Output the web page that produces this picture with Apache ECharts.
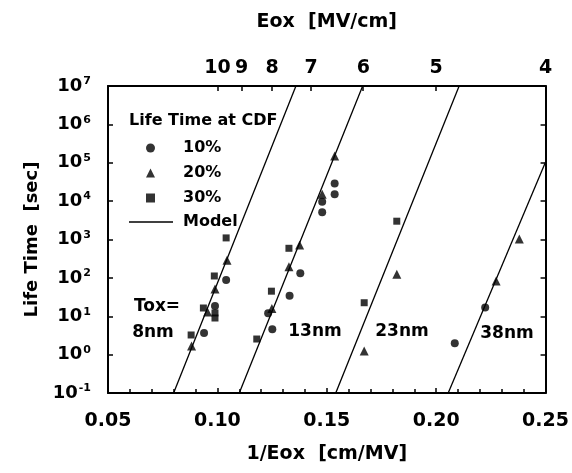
<!DOCTYPE html>
<html>
<head>
<meta charset="utf-8">
<script src="https://cdn.jsdelivr.net/npm/echarts@6/dist/echarts.min.js"></script>
<style>
html,body{margin:0;padding:0;background:#fff;}
#chart{width:572px;height:473px;}
</style>
</head>
<body>
<div id="chart"></div>
<script>
// ---- data ----
const xTicks = [0.05, 0.10, 0.15, 0.20, 0.25];          // 1/Eox [cm/MV]
const eoxLabels = [10, 9, 8, 7, 6, 5, 4];               // top axis Eox [MV/cm]
const yDecades = [-1, 0, 1, 2, 3, 4, 5, 6, 7];          // log10 life time

// CDF 10% (circles): [1/Eox, life time sec]
const cdf10 = [
  [0.1040, 88], [0.0989, 18.5], [0.0939, 3.66],
  [0.1536, 2.9e4], [0.1536, 1.5e4], [0.1479, 9.7e3], [0.1479, 5.1e3],
  [0.1379, 131], [0.1330, 34], [0.1232, 12], [0.1251, 4.6],
  [0.2224, 17], [0.2085, 1.97]
];
// CDF 20% (triangles)
const cdf20 = [
  [0.1044, 290], [0.0989, 51], [0.0955, 12.9], [0.0882, 1.68],
  [0.1536, 1.5e5], [0.1479, 1.5e4], [0.1376, 720], [0.1327, 195], [0.1249, 16],
  [0.1820, 124], [0.1671, 1.24],
  [0.2380, 1030], [0.2274, 83]
];
// CDF 30% (squares)
const cdf30 = [
  [0.1040, 1100], [0.0986, 112], [0.0936, 16.4], [0.0989, 12.2], [0.0989, 9.0], [0.0880, 3.25],
  [0.1327, 590], [0.1247, 45], [0.1180, 2.55],
  [0.1820, 3000], [0.1671, 22.5]
];
// Model lines (one per oxide thickness)
const model8nm  = [[0.0800, 0.1], [0.1359, 1e7]];
const model13nm = [[0.1100, 0.1], [0.1664, 1e7]];
const model23nm = [[0.1541, 0.1], [0.2105, 1e7]];
const model38nm = [[0.2055, 0.1], [0.2500, 1.05e5]];

const FONT = 'DejaVu Sans';
const topValues = eoxLabels.map(e => 1 / e);

const chart = echarts.init(document.getElementById('chart'), null, {renderer: 'canvas'});

const lineStyleModel = {color: '#000', width: 1.3};
function modelSeries(data) {
  return {
    name: 'Model', type: 'line', data: data, symbol: 'none', silent: true,
    lineStyle: lineStyleModel, itemStyle: {color: '#000'}, z: 3, animation: false
  };
}
const legendText = {fontFamily: FONT, fontWeight: 'bold', fontSize: 16, color: '#000', lineHeight: 20};

const option = {
  backgroundColor: '#fff',
  animation: false,
  textStyle: {fontFamily: FONT, fontWeight: 'bold', color: '#000'},
  grid: {left: 108, right: 24, top: 86, bottom: 80, containLabel: false},
  legend: [
    {
      orient: 'vertical', left: 146, top: 138, padding: 0,
      itemWidth: 9, itemHeight: 9, itemGap: 5,
      data: [
        {name: '10%', icon: 'circle'},
        {name: '20%', icon: 'triangle'},
        {name: '30%', icon: 'rect'}
      ],
      textStyle: Object.assign({padding: [0, 0, 0, 23]}, legendText),
      selectedMode: false
    },
    {
      orient: 'vertical', left: 129, top: 212, padding: 0,
      itemWidth: 44, itemHeight: 1.3, itemGap: 5,
      data: [{name: 'Model', icon: 'rect'}],
      textStyle: Object.assign({padding: [0, 0, 0, 5]}, legendText),
      selectedMode: false
    }
  ],
  xAxis: [
    {
      type: 'value', position: 'bottom', min: 0.05, max: 0.25, interval: 0.05,
      name: '1/Eox  [cm/MV]', nameLocation: 'middle', nameGap: 52,
      nameTextStyle: {fontFamily: FONT, fontWeight: 'bold', fontSize: 19, color: '#000'},
      axisLine: {show: true, onZero: false, lineStyle: {color: '#000', width: 2}},
      axisTick: {show: true, inside: true, length: 5, lineStyle: {color: '#000', width: 1.5}},
      minorTick: {show: true, splitNumber: 5, length: 4, lineStyle: {color: '#000', width: 1.5}},
      axisLabel: {fontFamily: FONT, fontWeight: 'bold', fontSize: 19, color: '#000', margin: 19,
        formatter: v => v.toFixed(2)},
      splitLine: {show: false}
    },
    {
      type: 'value', position: 'top', min: 0.05, max: 0.25,
      name: 'Eox  [MV/cm]', nameLocation: 'middle', nameGap: 54,
      nameTextStyle: {fontFamily: FONT, fontWeight: 'bold', fontSize: 19, color: '#000'},
      axisLine: {show: true, onZero: false, lineStyle: {color: '#000', width: 2}},
      axisTick: {show: true, inside: true, length: 5, customValues: topValues, lineStyle: {color: '#000', width: 1.5}},
      axisLabel: {fontFamily: FONT, fontWeight: 'bold', fontSize: 19, color: '#000', margin: 8,
        customValues: topValues, formatter: v => String(Math.round(1 / v))},
      splitLine: {show: false}
    }
  ],
  yAxis: [
    {
      type: 'log', logBase: 10, min: 0.1, max: 1e7, interval: 1, splitNumber: 8, position: 'left',
      name: 'Life Time  [sec]', nameLocation: 'middle', nameGap: 67, nameRotate: 90,
      nameTextStyle: {fontFamily: FONT, fontWeight: 'bold', fontSize: 18, color: '#000'},
      axisLine: {show: true, onZero: false, lineStyle: {color: '#000', width: 2}},
      axisTick: {show: true, inside: true, length: 5, lineStyle: {color: '#000', width: 1.5}},
      axisLabel: {
        margin: 17, color: '#000',
        formatter: v => '{b|10}{s|' + Math.round(Math.log10(v)) + '}',
        rich: {
          b: {fontFamily: FONT, fontWeight: 'bold', fontSize: 18, color: '#000', lineHeight: 20},
          s: {fontFamily: FONT, fontWeight: 'bold', fontSize: 11, color: '#000', padding: [0, 0, 9, 1]}
        }
      },
      splitLine: {show: false}
    },
    {
      type: 'log', logBase: 10, min: 0.1, max: 1e7, interval: 1, splitNumber: 8, position: 'right',
      axisLine: {show: true, onZero: false, lineStyle: {color: '#000', width: 2}},
      axisTick: {show: true, inside: true, length: 5, lineStyle: {color: '#000', width: 1.5}},
      axisLabel: {show: false},
      splitLine: {show: false}
    }
  ],
  graphic: [
    {type: 'text', left: 129, top: 113, z: 10,
      style: {text: 'Life Time at CDF', font: 'bold 16px "DejaVu Sans"', fill: '#000'}},
    {type: 'text', x: 157, y: 307, z: 10,
      style: {text: 'Tox=', font: 'bold 17px "DejaVu Sans"', fill: '#000', align: 'center', verticalAlign: 'middle'}},
    {type: 'text', x: 153, y: 333, z: 10,
      style: {text: '8nm', font: 'bold 17px "DejaVu Sans"', fill: '#000', align: 'center', verticalAlign: 'middle'}},
    {type: 'text', x: 315, y: 332, z: 10,
      style: {text: '13nm', font: 'bold 17px "DejaVu Sans"', fill: '#000', align: 'center', verticalAlign: 'middle'}},
    {type: 'text', x: 402, y: 332, z: 10,
      style: {text: '23nm', font: 'bold 17px "DejaVu Sans"', fill: '#000', align: 'center', verticalAlign: 'middle'}},
    {type: 'text', x: 507, y: 334, z: 10,
      style: {text: '38nm', font: 'bold 17px "DejaVu Sans"', fill: '#000', align: 'center', verticalAlign: 'middle'}}
  ],
  series: [
    {name: '10%', type: 'scatter', data: cdf10, symbol: 'circle', symbolSize: 8,
      itemStyle: {color: '#000'}, z: 4},
    {name: '20%', type: 'scatter', data: cdf20, symbol: 'triangle', symbolSize: 9,
      itemStyle: {color: '#000'}, z: 4},
    {name: '30%', type: 'scatter', data: cdf30, symbol: 'rect', symbolSize: 7,
      itemStyle: {color: '#000'}, z: 4},
    modelSeries(model8nm),
    modelSeries(model13nm),
    modelSeries(model23nm),
    modelSeries(model38nm)
  ]
};
chart.setOption(option);
</script>
</body>
</html>
